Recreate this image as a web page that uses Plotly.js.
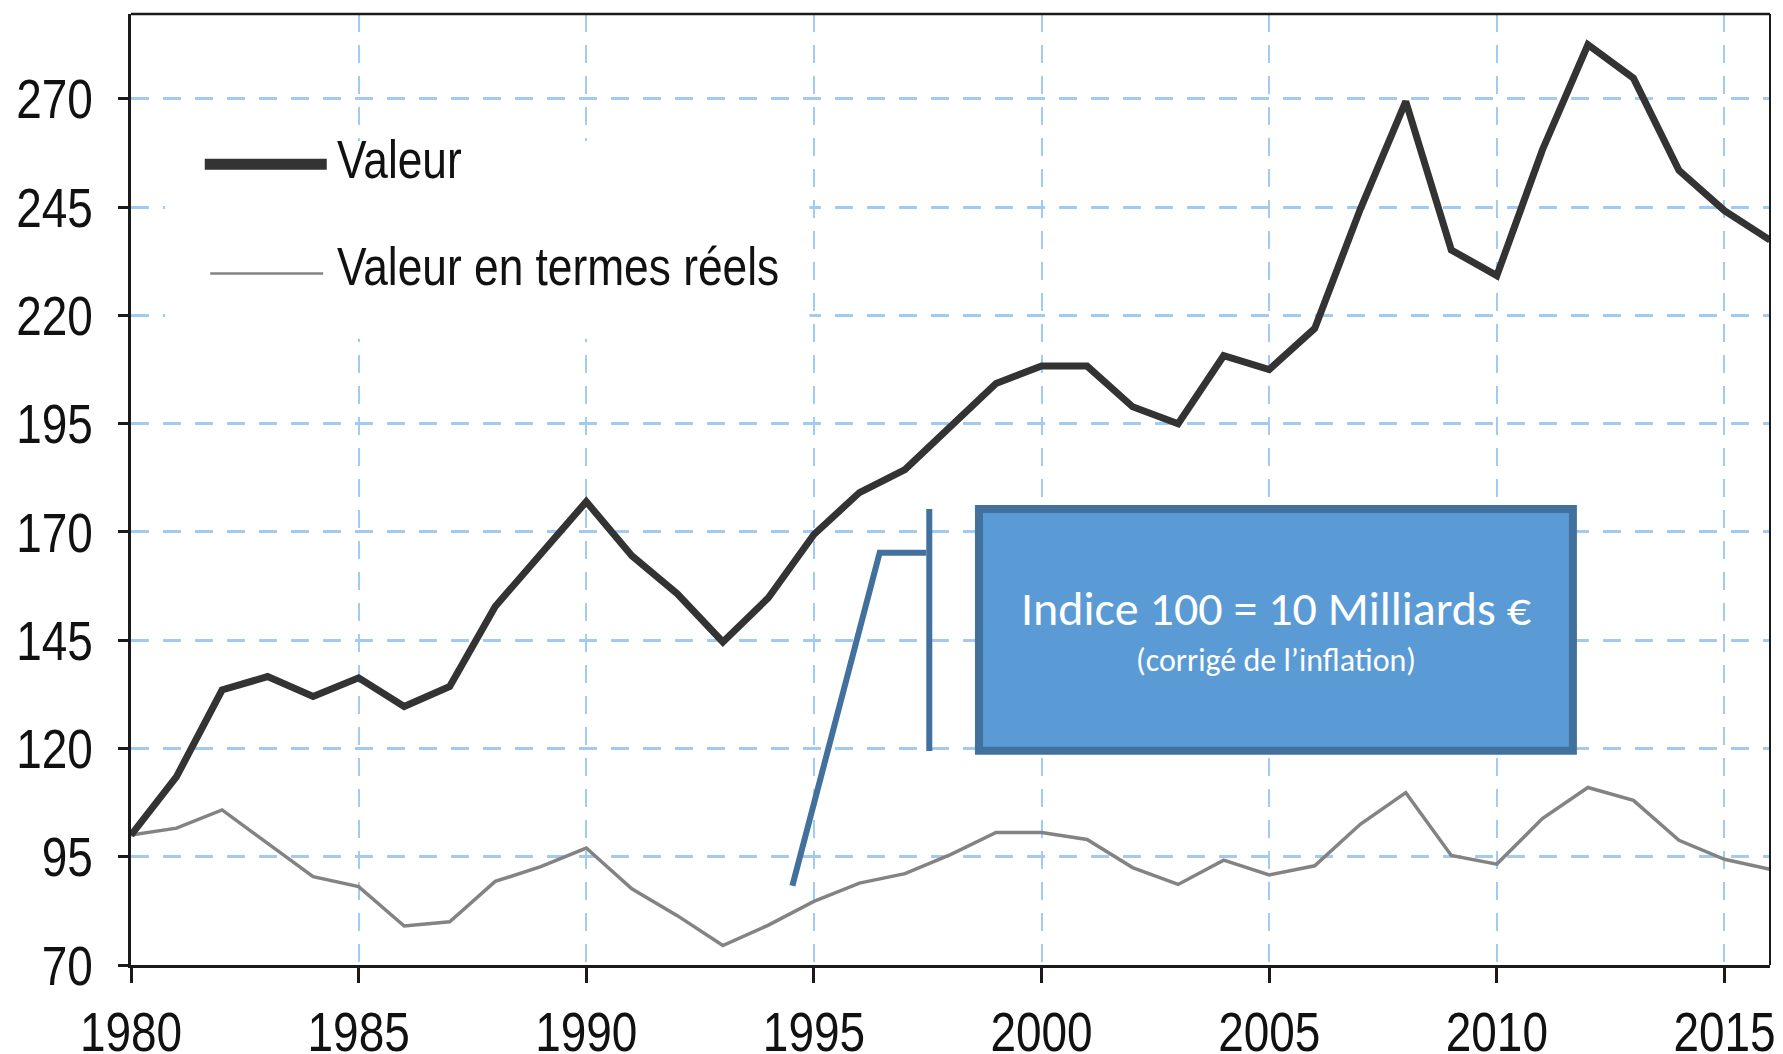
<!DOCTYPE html>
<html>
<head>
<meta charset="utf-8">
<script src="https://cdn.plot.ly/plotly-3.0.1.min.js"></script>
<style>
html, body { margin: 0; padding: 0; background: #ffffff; }
#chart { width: 1783px; height: 1054px; }
</style>
</head>
<body>
<div id="chart"></div>
<script>
// ---- Data ----
const years = [1980,1981,1982,1983,1984,1985,1986,1987,1988,1989,
               1990,1991,1992,1993,1994,1995,1996,1997,1998,1999,
               2000,2001,2002,2003,2004,2005,2006,2007,2008,2009,
               2010,2011,2012,2013,2014,2015,2016];

const valeur = [100,113.5,133.5,136.6,132,136.3,129.7,134.3,152.8,165.1,
                177,164.5,155.7,144.6,154.8,169.4,179.1,184.4,194.1,204.3,
                208.3,208.3,198.9,195,210.7,207.5,217,244.5,269.4,235.1,
                229.2,258.2,282.5,274.8,253.5,244.2,237.4];

const valeurReelle = [100,101.6,105.8,98.1,90.4,88.1,79,80,89.3,92.7,
                      97,87.6,81.4,74.5,79.2,84.7,88.9,91.1,95.5,100.6,
                      100.6,99,92.5,88.6,94.2,90.8,92.9,102.5,109.8,95.3,
                      93.3,103.8,111,108,98.8,94.4,92.1];

const seriesNames = ["Valeur", "Valeur en termes réels"];
const xTicks = [1980,1985,1990,1995,2000,2005,2010,2015];
const yTicks = [70,95,120,145,170,195,220,245,270];
const boxLine1 = "Indice 100 = 10 Milliards €";
const boxLine2 = "(corrigé de l’inflation)";

// ---- Styling ----
const sansFont = '"Liberation Sans", Arial, sans-serif';   // condensed below to mimic Arial Narrow
const calibriLike = 'Carlito, Lato, "Open Sans", sans-serif';
const axisCol = '#1a1a1a';
const gridCol = '#a3cbf2';
const boxFill = '#5b9bd5';
const boxEdge = '#41719c';
const NARROW = 0.82;

const traces = [
  {
    x: years, y: valeurReelle, name: seriesNames[1], type: 'scatter', mode: 'lines',
    line: { color: '#838383', width: 3.5 }, showlegend: false, hoverinfo: 'x+y'
  },
  {
    x: years, y: valeur, name: seriesNames[0], type: 'scatter', mode: 'lines',
    line: { color: '#333333', width: 7 }, showlegend: false, hoverinfo: 'x+y'
  }
];

const layout = {
  width: 1783, height: 1054,
  margin: { l: 131, r: 13, t: 14, b: 89, pad: 0 },
  paper_bgcolor: '#ffffff', plot_bgcolor: '#ffffff',
  showlegend: false,
  xaxis: {
    range: [1980, 2016], tickvals: xTicks, ticktext: xTicks.map(String),
    showline: true, linecolor: axisCol, linewidth: 3,
    ticks: 'outside', ticklen: 15, tickwidth: 3, tickcolor: axisCol,
    showgrid: true, gridcolor: gridCol, gridwidth: 2, griddash: '18px,13px',
    zeroline: false, fixedrange: true,
    tickfont: { family: sansFont, size: 56, color: '#111111' },
    ticklabelstandoff: 1, ticklabeloverflow: 'allow'
  },
  yaxis: {
    range: [70, 289.6], tickvals: yTicks, ticktext: yTicks.map(String),
    showline: true, linecolor: axisCol, linewidth: 3,
    ticks: 'outside', ticklen: 10, tickwidth: 3, tickcolor: axisCol,
    showgrid: true, gridcolor: gridCol, gridwidth: 3, griddash: '18px,14px',
    zeroline: false, fixedrange: true,
    tickfont: { family: sansFont, size: 56, color: '#111111' },
    ticklabelstandoff: 14, ticklabeloverflow: 'allow'
  },
  shapes: [
    // frame top and right
    { type: 'line', xref: 'paper', yref: 'paper', x0: 0, x1: 1, y0: 1, y1: 1,
      line: { color: axisCol, width: 2.5 }, layer: 'above' },
    { type: 'line', xref: 'paper', yref: 'paper', x0: 1, x1: 1, y0: 0, y1: 1,
      line: { color: axisCol, width: 2 }, layer: 'above' },
    // legend background (hides grid)
    { type: 'rect', xref: 'x', yref: 'y', x0: 1980.75, x1: 1994.9, y0: 214.6, y1: 260.3,
      fillcolor: '#ffffff', line: { width: 0 }, layer: 'between' },
    // legend samples
    { type: 'line', xref: 'x', yref: 'y', x0: 1981.62, x1: 1984.30, y0: 254.9, y1: 254.9,
      line: { color: '#333333', width: 11 }, layer: 'above' },
    { type: 'line', xref: 'x', yref: 'y', x0: 1981.74, x1: 1984.22, y0: 229.7, y1: 229.7,
      line: { color: '#838383', width: 2.5 }, layer: 'above' },
    // callout leader lines
    { type: 'path', xref: 'x', yref: 'y',
      path: 'M 1994.527 88.28 L 1996.444 165.21 L 1997.466 165.21',
      line: { color: boxEdge, width: 6 }, layer: 'above' },
    { type: 'line', xref: 'x', yref: 'y', x0: 1997.534, x1: 1997.534, y0: 119.41, y1: 175.29,
      line: { color: boxEdge, width: 6 }, layer: 'above' },
    // annotation box
    { type: 'rect', xref: 'x', yref: 'y', x0: 1998.625, x1: 2011.671, y0: 119.46, y1: 175.27,
      fillcolor: boxFill, line: { color: boxEdge, width: 8 }, layer: 'above' }
  ],
  annotations: [
    { xref: 'x', yref: 'y', x: 1984.50, y: 256.2, xanchor: 'left', yanchor: 'middle', align: 'left',
      text: seriesNames[0], showarrow: false, borderpad: 0,
      font: { family: sansFont, size: 54, color: '#111111' } },
    { xref: 'x', yref: 'y', x: 1984.50, y: 231.5, xanchor: 'left', yanchor: 'middle', align: 'left',
      text: seriesNames[1], showarrow: false, borderpad: 0,
      font: { family: sansFont, size: 54, color: '#111111' } },
    { xref: 'x', yref: 'y', x: 2005.15, y: 152.3, xanchor: 'center', yanchor: 'middle',
      text: boxLine1, showarrow: false,
      font: { family: calibriLike, size: 48, color: '#ffffff' } },
    { xref: 'x', yref: 'y', x: 2005.15, y: 140.4, xanchor: 'center', yanchor: 'middle',
      text: boxLine2, showarrow: false,
      font: { family: calibriLike, size: 32, color: '#ffffff' } }
  ]
};

function narrowText(el) {
  const w = el.getComputedTextLength();
  if (w > 0) {
    el.setAttribute('textLength', (w * NARROW).toFixed(2));
    el.setAttribute('lengthAdjust', 'spacingAndGlyphs');
  }
}

Plotly.newPlot('chart', traces, layout, { staticPlot: true, displayModeBar: false }).then(function (gd) {
  gd.querySelectorAll('.xtick text, .ytick text').forEach(narrowText);
  gd.querySelectorAll('g.annotation').forEach(function (g) {
    const idx = g.getAttribute('data-index');
    if (idx === '0' || idx === '1') {
      g.querySelectorAll('text.annotation-text').forEach(narrowText);
    }
  });
});
</script>
</body>
</html>
